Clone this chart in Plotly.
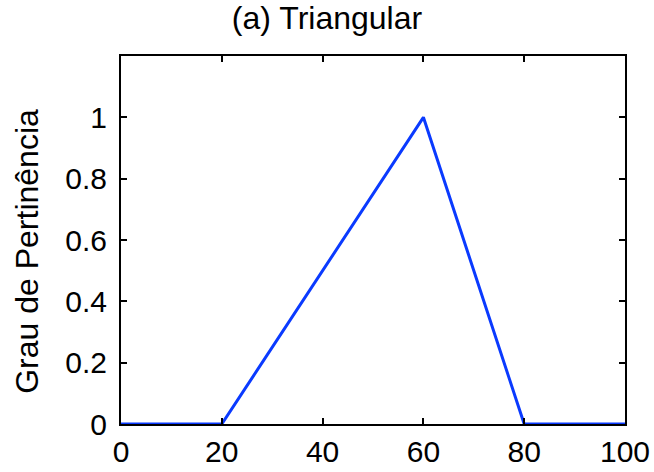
import plotly.graph_objects as go

# Triangular membership function: support [20, 80], peak at 60
x_values = [0, 20, 60, 80, 100]
membership = [0, 0, 1, 0, 0]

x_ticks = [0, 20, 40, 60, 80, 100]
y_ticks = [0, 0.2, 0.4, 0.6, 0.8, 1]
y_tick_labels = ["0", "0.2", "0.4", "0.6", "0.8", "1"]

y_title = "Grau de Pertinência"
plot_title = "(a) Triangular"

font_family = "Liberation Sans, Arial, Helvetica, sans-serif"

fig = go.Figure()
fig.add_trace(go.Scatter(
    x=x_values, y=membership, mode="lines",
    line=dict(color="#0a3aff", width=3),
    showlegend=False, cliponaxis=False,
))

axis_common = dict(
    showgrid=False, zeroline=False, automargin=False,
    showline=True, linecolor="black", linewidth=2,
    mirror="ticks", ticks="inside", ticklen=6, tickwidth=1.5, tickcolor="black",
    tickfont=dict(family=font_family, size=30, color="black"),
)

fig.update_xaxes(range=[0, 100], tickvals=x_ticks, ticklabelstandoff=0, **axis_common)
fig.update_yaxes(range=[0, 1.2], tickvals=y_ticks, ticktext=y_tick_labels,
                 ticklabelstandoff=6, **axis_common)

# Rotated y-axis label placed just left of the tick labels
fig.add_annotation(
    text=y_title, textangle=-90, showarrow=False,
    xref="paper", yref="paper", x=-0.187, y=0.47,
    xanchor="center", yanchor="middle",
    font=dict(family=font_family, size=32, color="black"),
)

fig.update_layout(
    width=654, height=472,
    margin=dict(l=121, r=29, t=56, b=48),
    paper_bgcolor="white", plot_bgcolor="white",
    title=dict(text=plot_title, x=0.5, xref="container", xanchor="center",
               y=0.985, yref="container", yanchor="top",
               font=dict(family=font_family, size=32, color="black")),
)

fig.write_html("out.html")
